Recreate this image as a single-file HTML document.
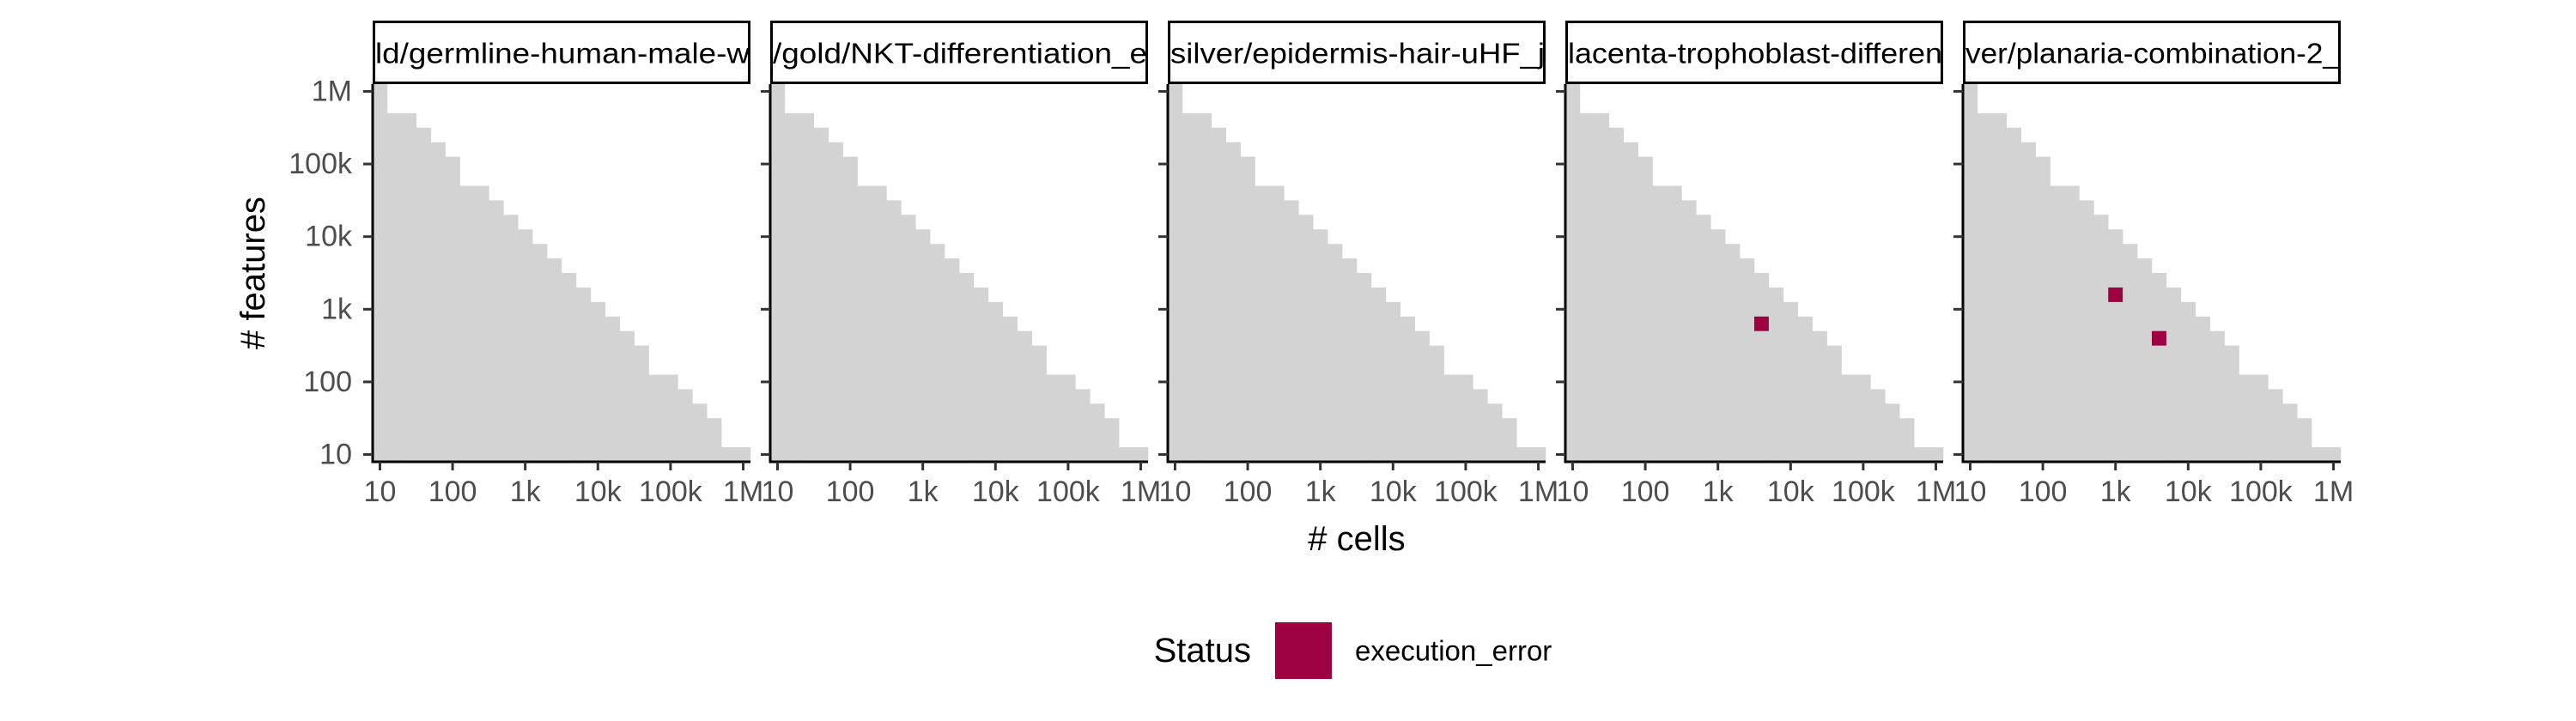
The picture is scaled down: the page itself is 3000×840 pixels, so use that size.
<!DOCTYPE html>
<html><head><meta charset="utf-8"><style>
html,body{margin:0;padding:0;background:#fff;}
svg{display:block;font-family:"Liberation Sans",Arial,sans-serif;}
</style></head><body>
<svg id="chart" width="3000" height="840" viewBox="0 0 3000 840" xmlns="http://www.w3.org/2000/svg">
<g id="panels"></g>
<text x="295" y="318" font-size="40" text-anchor="middle" dominant-baseline="central" transform="rotate(-90 295 318)"># features</text>
<text x="1580" y="628" font-size="40" text-anchor="middle" dominant-baseline="central"># cells</text>
<g>
<text x="1457" y="758" font-size="40" text-anchor="end" dominant-baseline="central">Status</text>
<rect x="1485" y="725" width="66" height="66" fill="#9E0142"/>
<text x="1578" y="758" font-size="33" dominant-baseline="central">execution_error</text>
</g>
</svg>
<script>
// data (log10 values)
const panelTitles = ["ld/germline-human-male-w", "/gold/NKT-differentiation_e", "silver/epidermis-hair-uHF_j", "lacenta-trophoblast-differen", "ver/planaria-combination-2_"];
const cellBins = [1.0,1.2,1.4,1.6,1.8,2.0,2.2,2.4,2.6,2.8,3.0,3.2,3.4,3.6,3.8,4.0,4.2,4.4,4.6,4.8,5.0,5.2,5.4,5.6,5.8,6.0];
const maxFeatureBins = [6.0,5.6,5.6,5.4,5.2,5.0,4.6,4.6,4.4,4.2,4.0,3.8,3.6,3.4,3.2,3.0,2.8,2.6,2.4,2.0,2.0,1.8,1.6,1.4,1.0,1.0];
const errorPanel = [3, 4, 4];
const errorCells = [3.6, 3.0, 3.6];
const errorFeatures = [2.8, 3.2, 2.6];
const tickValues = [1,2,3,4,5,6];
const tickLabels = ["10","100","1k","10k","100k","1M"];

const NS = "http://www.w3.org/2000/svg";
const panelLefts = [434, 897, 1360, 1823, 2286];
const PW = 440, TOP = 98, BOT = 538, DMIN = 0.9, DMAX = 6.1, BIN = 0.2;
const root = document.getElementById('panels');
function mk(tag, attrs, parent){
  const e = document.createElementNS(NS, tag);
  for (const k in attrs) e.setAttribute(k, attrs[k]);
  parent.appendChild(e);
  return e;
}
function yScale(v){ return TOP + (DMAX - v) / (DMAX - DMIN) * (BOT - TOP); }

panelLefts.forEach((L, p) => {
  const xScale = v => L + (v - DMIN) / (DMAX - DMIN) * PW;
  const g = mk('g', {}, root);
  
  
  // gray heatmap columns
  cellBins.forEach((c, i) => {
    const x0 = xScale(c - BIN / 2), x1 = xScale(c + BIN / 2);
    const yt = yScale(maxFeatureBins[i] + BIN / 2), yb = yScale(DMIN);
    const r = mk('rect', {x: x0, y: yt, width: x1 - x0 + 0.3, height: yb - yt, fill: '#D3D3D3'}, g);
    
    
  });
  // error cells
  errorPanel.forEach((ep, k) => {
    if (ep !== p) return;
    const x0 = xScale(errorCells[k] - BIN / 2), x1 = xScale(errorCells[k] + BIN / 2);
    const y0 = yScale(errorFeatures[k] + BIN / 2), y1 = yScale(errorFeatures[k] - BIN / 2);
    const r = mk('rect', {x: x0, y: y0, width: x1 - x0, height: y1 - y0, fill: '#9E0142'}, g);
    
    
  });
  // strip
  const strip = mk('rect', {x: L + 1.5, y: 25.5, width: PW - 3, height: 71, fill: '#fff', stroke: '#000', 'stroke-width': 3}, g);
  
  
  const cp = mk('clipPath', {id: 'clip' + p}, g);
  mk('rect', {x: L + 3, y: 27, width: PW - 6, height: 68}, cp);
  const st = mk('text', {x: L + 3, y: 62, 'font-size': 33, 'dominant-baseline': 'central', 'clip-path': 'url(#clip' + p + ')', textLength: PW - 4, lengthAdjust: 'spacingAndGlyphs'}, g);
  st.textContent = panelTitles[p];
  
  
  // axes
  const ax = mk('line', {x1: L, y1: TOP, x2: L, y2: BOT + 1.5, stroke: '#000', 'stroke-width': 3}, g);
  
  
  const bx = mk('line', {x1: L - 1.5, y1: BOT, x2: L + PW, y2: BOT, stroke: '#000', 'stroke-width': 3}, g);
  
  
  tickValues.forEach((t, i) => {
    const yt = yScale(t);
    const tk = mk('line', {x1: L - 11, y1: yt, x2: L, y2: yt, stroke: '#333', 'stroke-width': 3}, g);
    
    
    if (p === 0) {
      const tl = mk('text', {x: L - 24, y: yt, 'font-size': 34, fill: '#4D4D4D', 'text-anchor': 'end', 'dominant-baseline': 'central'}, g);
      tl.textContent = tickLabels[i];
      
      
    }
    const xt = xScale(t);
    const xk = mk('line', {x1: xt, y1: BOT, x2: xt, y2: BOT + 10, stroke: '#333', 'stroke-width': 3}, g);
    
    
    const xl = mk('text', {x: xt, y: 573, 'font-size': 34, fill: '#4D4D4D', 'text-anchor': 'middle', 'dominant-baseline': 'central'}, g);
    xl.textContent = tickLabels[i];
    
    
  });
});
</script>
</body></html>
